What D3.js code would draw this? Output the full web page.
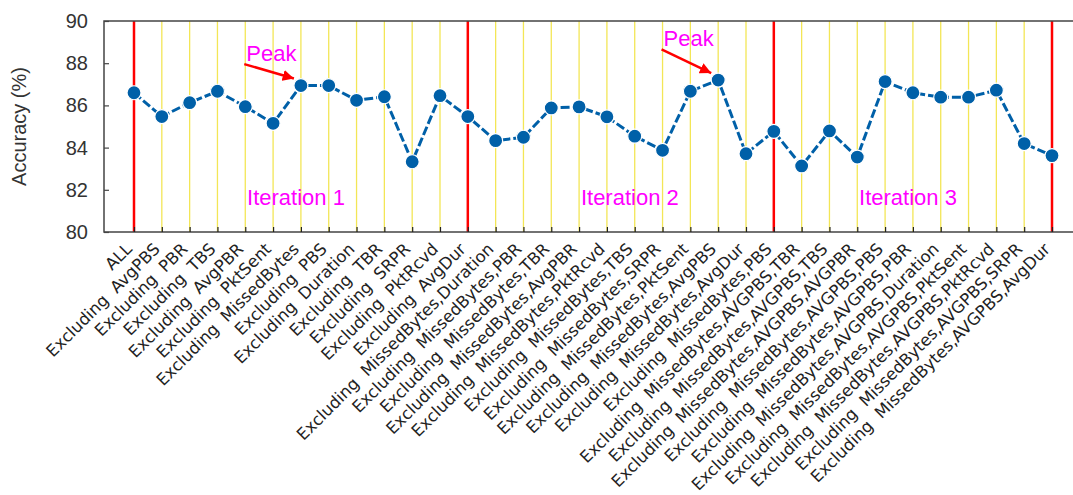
<!DOCTYPE html>
<html>
<head>
<meta charset="utf-8">
<script src="https://cdn.jsdelivr.net/npm/d3@7"></script>
<style>
  body { margin:0; background:#fff; }
  svg { display:block; }
</style>
</head>
<body>
<div class="svg-container"></div>
<script>
//categories (x axis)
const features = [
  "ALL",
  "Excluding  AvgPBS", "Excluding  PBR", "Excluding  TBS", "Excluding  AvgPBR",
  "Excluding  PktSent", "Excluding  MissedBytes", "Excluding  PBS", "Excluding  Duration",
  "Excluding  TBR", "Excluding  SRPR", "Excluding  PktRcvd", "Excluding  AvgDur",
  "Excluding  MissedBytes,Duration", "Excluding  MissedBytes,PBR", "Excluding  MissedBytes,TBR",
  "Excluding  MissedBytes,AvgPBR", "Excluding  MissedBytes,PktRcvd", "Excluding  MissedBytes,TBS",
  "Excluding  MissedBytes,SRPR", "Excluding  MissedBytes,PktSent", "Excluding  MissedBytes,AvgPBS",
  "Excluding  MissedBytes,AvgDur", "Excluding  MissedBytes,PBS",
  "Excluding  MissedBytes,AVGPBS,TBR", "Excluding  MissedBytes,AVGPBS,TBS",
  "Excluding  MissedBytes,AVGPBS,AVGPBR", "Excluding  MissedBytes,AVGPBS,PBS",
  "Excluding  MissedBytes,AVGPBS,PBR", "Excluding  MissedBytes,AVGPBS,Duration",
  "Excluding  MissedBytes,AVGPBS,PktSent", "Excluding  MissedBytes,AVGPBS,PktRcvd",
  "Excluding  MissedBytes,AVGPBS,SRPR", "Excluding  MissedBytes,AVGPBS,AvgDur"
];

//accuracy values (%)
const accuracy = [
  86.60, 85.47, 86.13, 86.67, 85.94, 85.15, 86.94, 86.94, 86.24, 86.41, 83.33, 86.46, 85.47,
  84.33, 84.49, 85.88, 85.93, 85.46, 84.54, 83.87, 86.67, 87.20, 83.71, 84.77,
  83.13, 84.79, 83.55, 87.13, 86.60, 86.39, 86.39, 86.72, 84.19, 83.62
];

//iteration boundaries (red lines)
const boundaries = ["ALL", "Excluding  AvgDur", "Excluding  MissedBytes,PBS", "Excluding  MissedBytes,AVGPBS,AvgDur"];

//y ticks
const yTicks = [80, 82, 84, 86, 88, 90];

//text annotations
const iterations = [
  { label: "Iteration 1", at: "Excluding  PktSent" },
  { label: "Iteration 2", at: "Excluding  MissedBytes,PktRcvd" },
  { label: "Iteration 3", at: "Excluding  MissedBytes,AVGPBS,PBS" }
];
const peaks = [
  { from: "Excluding  AvgPBR", to: "Excluding  MissedBytes", text: 88.1 },
  { from: "Excluding  MissedBytes,SRPR", to: "Excluding  MissedBytes,AvgPBS", text: 88.8 }
];

const W = 1073, H = 495;
const plot = { left:104, right:1082, top:21, bottom:232 };

const svg = d3.select(".svg-container")
  .append("svg")
  .attr("width", W)
  .attr("height", H);

const x = d3.scalePoint()
  .domain(features)
  .range([134, 1052]);

const y = d3.scaleLinear()
  .domain([80, 90])
  .range([plot.bottom, plot.top]);

//vertical guide lines
svg.selectAll(".vline")
  .data(features)
  .join("line")
  .attr("class", "vline")
  .attr("x1", d => x(d)).attr("x2", d => x(d))
  .attr("y1", plot.top).attr("y2", plot.bottom)
  .attr("stroke", d => boundaries.includes(d) ? "#ff0000" : "#f3e656")
  .attr("stroke-width", d => boundaries.includes(d) ? 2.5 : 1.3);

//frame (left, top, bottom)
svg.append("path")
  .attr("d", `M${plot.right},${plot.top}H${plot.left}V${plot.bottom}H${plot.right}`)
  .attr("fill", "none")
  .attr("stroke", "#444")
  .attr("stroke-width", 1.5);

//y axis
const yAxis = d3.axisRight(y).tickValues(yTicks).tickSize(5).tickFormat(d3.format("d"));
const gy = svg.append("g")
  .attr("transform", `translate(${plot.left},0)`)
  .call(yAxis);
gy.select(".domain").remove();
gy.selectAll(".tick line").attr("stroke", "#444").attr("stroke-width", 1.2);
gy.selectAll(".tick text")
  .attr("x", -16)
  .attr("text-anchor", "end")
  .attr("font-family", "Liberation Sans, Arial, sans-serif")
  .attr("font-size", 20)
  .attr("fill", "#333");

//x axis
const xAxis = d3.axisTop(x).tickSize(5).tickFormat("");
const gx = svg.append("g")
  .attr("transform", `translate(0,${plot.bottom})`)
  .call(xAxis);
gx.select(".domain").remove();
gx.selectAll(".tick line").attr("stroke", "#222").attr("stroke-width", 1.2);

svg.selectAll(".xlabel")
  .data(features)
  .join("text")
  .attr("class", "xlabel")
  .attr("transform", d => `translate(${x(d) - 5},${plot.bottom + 14}) rotate(-45)`)
  .attr("text-anchor", "end")
  .attr("dy", "0.35em")
  .attr("font-family", "DejaVu Sans, sans-serif")
  .attr("font-size", 16.5)
  .attr("fill", "#222")
  .style("white-space", "pre")
  .text(d => d);

//y axis title
svg.append("text")
  .attr("transform", `translate(26,${(plot.top + plot.bottom) / 2}) rotate(-90)`)
  .attr("text-anchor", "middle")
  .attr("font-family", "Liberation Sans, Arial, sans-serif")
  .attr("font-size", 20)
  .attr("fill", "#333")
  .text("Accuracy (%)");

//data line
const line = d3.line()
  .x((d, i) => x(features[i]))
  .y(d => y(d));

svg.append("path")
  .datum(accuracy)
  .attr("d", line)
  .attr("fill", "none")
  .attr("stroke", "#0060a8")
  .attr("stroke-width", 3)
  .attr("stroke-dasharray", "9,3");

svg.selectAll(".dot")
  .data(accuracy)
  .join("circle")
  .attr("class", "dot")
  .attr("cx", (d, i) => x(features[i]))
  .attr("cy", d => y(d))
  .attr("r", 7)
  .attr("fill", "#0060a8")
  .attr("stroke", "#fff")
  .attr("stroke-width", 1.2);

//iteration labels
svg.selectAll(".iter")
  .data(iterations)
  .join("text")
  .attr("class", "iter")
  .attr("x", d => x(d.at) - 26)
  .attr("y", y(81.3))
  .attr("font-family", "Liberation Sans, Arial, sans-serif")
  .attr("font-size", 22)
  .attr("fill", "#ff00ff")
  .text(d => d.label);

//peak arrows
svg.append("defs").append("marker")
  .attr("id", "arrow")
  .attr("viewBox", "0 0 10 10")
  .attr("refX", 10).attr("refY", 5)
  .attr("markerWidth", 4.5).attr("markerHeight", 4.5)
  .attr("orient", "auto")
  .append("path")
  .attr("d", "M0,0L10,5L0,10z")
  .attr("fill", "#ff0000");

const peakIdx = p => features.indexOf(p.to);

svg.selectAll(".peak-arrow")
  .data(peaks)
  .join("line")
  .attr("class", "peak-arrow")
  .attr("x1", d => x(d.from) - 1)
  .attr("y1", d => y(d.text) + 3)
  .attr("x2", d => x(d.to) - 7)
  .attr("y2", d => y(accuracy[peakIdx(d)]) - 7)
  .attr("stroke", "#ff0000")
  .attr("stroke-width", 2.5)
  .attr("marker-end", "url(#arrow)");

svg.selectAll(".peak-text")
  .data(peaks)
  .join("text")
  .attr("class", "peak-text")
  .attr("x", d => x(d.from) + 1)
  .attr("y", d => y(d.text))
  .attr("font-family", "Liberation Sans, Arial, sans-serif")
  .attr("font-size", 22)
  .attr("fill", "#ff00ff")
  .text("Peak");
</script>
</body>
</html>
